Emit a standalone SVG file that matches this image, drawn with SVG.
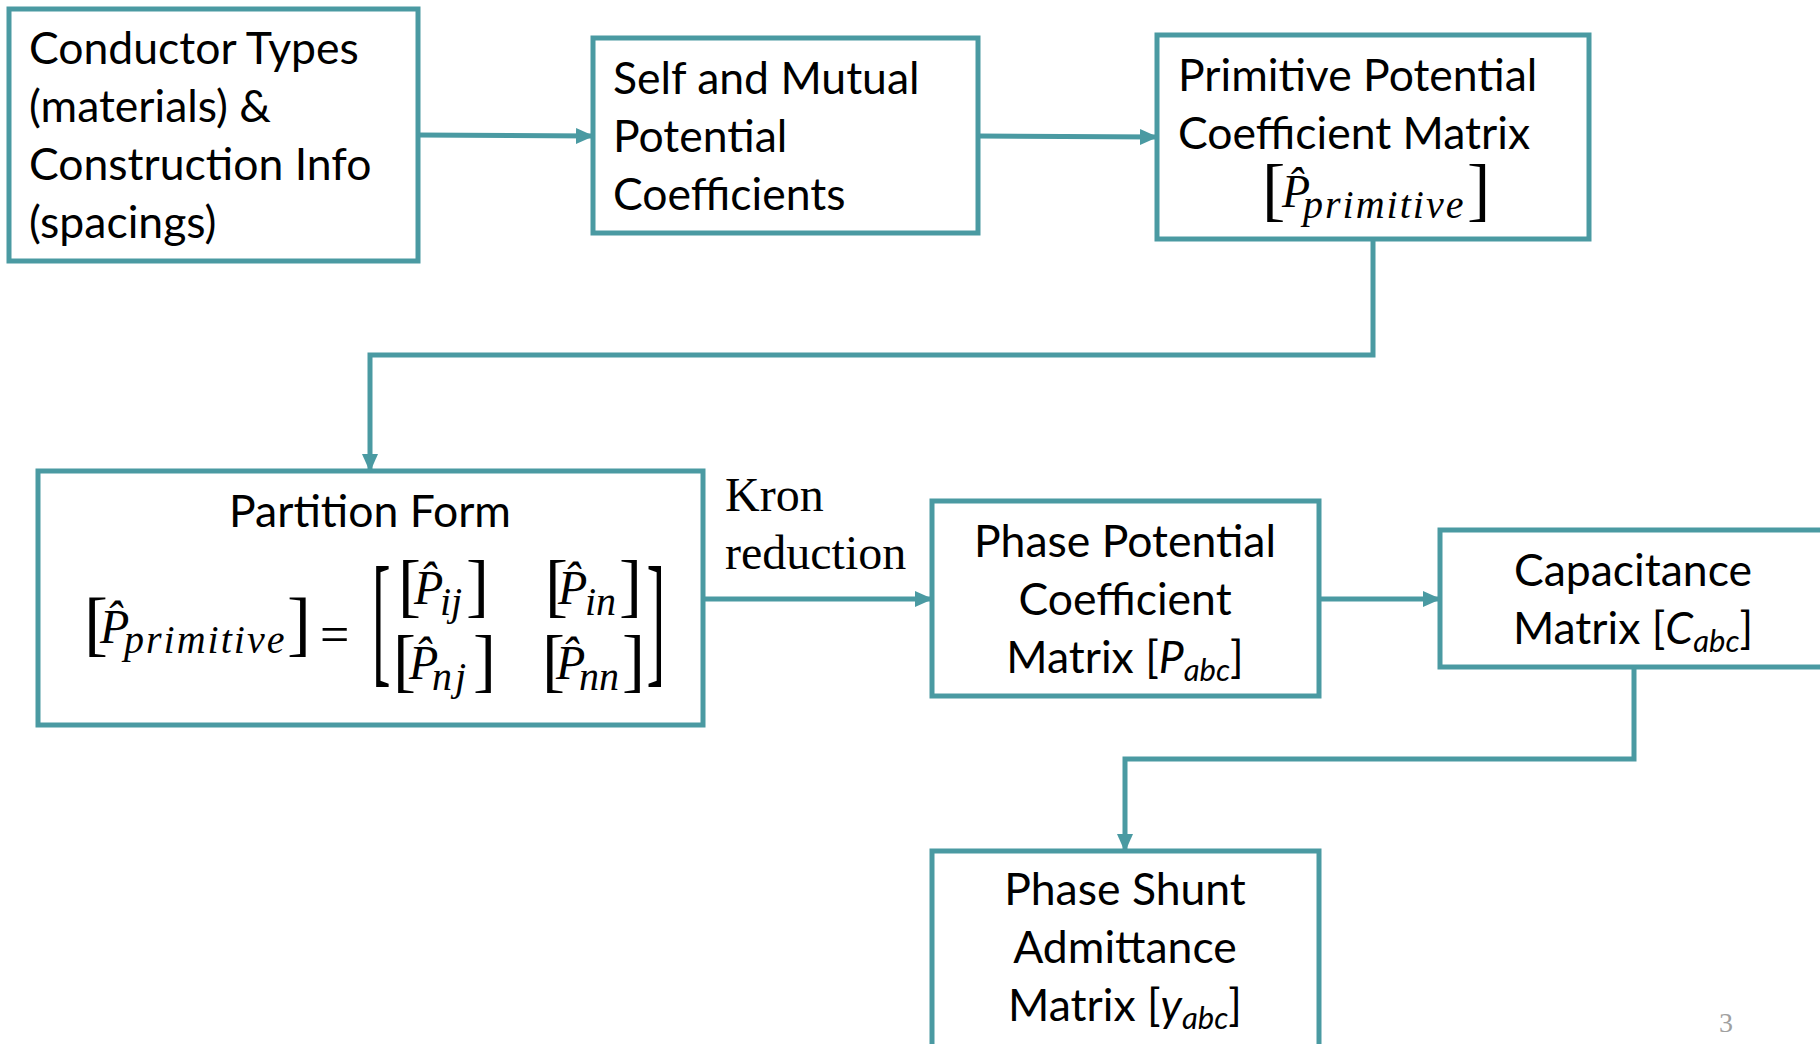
<svg xmlns="http://www.w3.org/2000/svg" width="1820" height="1044" viewBox="0 0 1820 1044">
<style>
.box{fill:#fff;stroke:#4a9aa2;stroke-width:5}
.t{font-family:Lato,"Liberation Sans",sans-serif;font-size:44.5px;fill:#000}
.c{text-anchor:middle}
.m{font-family:"Liberation Serif",serif;fill:#000}
.i{font-style:italic}
.b{font-family:"Liberation Serif",serif;fill:#000}
.con{fill:none;stroke:#4a9aa2;stroke-width:5;marker-end:url(#ah)}
</style>
<defs>
<marker id="ah" markerUnits="userSpaceOnUse" markerWidth="18" markerHeight="18" viewBox="0 0 18 18" refX="17" refY="9" orient="auto">
<path d="M0,1 L18,9 L0,17 Z" fill="#4a9aa2"/>
</marker>
</defs>
<rect width="1820" height="1044" fill="#fff"/>
<g id="connectors">
<path class="con" d="M418,135 L593,136"/>
<path class="con" d="M978,136 L1157,137"/>
<path class="con" d="M1373,239 V355 H370 V471"/>
<path class="con" d="M703,599 H932"/>
<path class="con" d="M1319,599 H1440"/>
<path class="con" d="M1634,667 V759 H1125 V851"/>
</g>
<g id="n1">
<rect class="box" x="9" y="9" width="409" height="252"/>
<text class="t" x="29" y="64">Conductor Types</text>
<text class="t" x="29" y="122">(materials) &amp;</text>
<text class="t" x="29" y="180">Construction Info</text>
<text class="t" x="29" y="238">(spacings)</text>
</g>
<g id="n2">
<rect class="box" x="593" y="38" width="385" height="195"/>
<text class="t" x="613" y="94">Self and Mutual</text>
<text class="t" x="613" y="152">Potential</text>
<text class="t" x="613" y="210">Coefficients</text>
</g>
<g id="n3">
<rect class="box" x="1157" y="35" width="432" height="204"/>
<text class="t" x="1178" y="91">Primitive Potential</text>
<text class="t" x="1178" y="149">Coefficient Matrix</text>
<text class="m"><tspan x="1262" y="213" font-size="70">[</tspan><tspan class="i" x="1282" y="207" font-size="46">P̂</tspan><tspan class="i" x="1303" y="218" font-size="40" letter-spacing="2">primitive</tspan><tspan x="1467" y="213" font-size="70">]</tspan></text>
</g>
<g id="n4">
<rect class="box" x="38" y="471" width="665" height="254"/>
<text class="t c" x="370" y="527">Partition Form</text>
<text class="m"><tspan x="84" y="647" font-size="72">[</tspan><tspan class="i" x="100" y="643" font-size="48">P̂</tspan><tspan class="i" x="124" y="653" font-size="40" letter-spacing="2">primitive</tspan><tspan x="287" y="647" font-size="72">]</tspan><tspan x="320" y="652" font-size="52">=</tspan></text>
<text class="b" x="465" y="317.7" font-size="70" transform="scale(0.8 2.1)">[</text>
<text class="b" x="808" y="317.7" font-size="70" transform="scale(0.8 2.1)">]</text>
<text class="m"><tspan x="398" y="609" font-size="69">[</tspan><tspan class="i" x="414" y="604" font-size="48">P̂</tspan><tspan class="i" x="440" y="615" font-size="40">ij</tspan><tspan x="466" y="609" font-size="69">]</tspan></text>
<text class="m"><tspan x="545" y="609" font-size="69">[</tspan><tspan class="i" x="558" y="604" font-size="48">P̂</tspan><tspan class="i" x="585" y="615" font-size="40">in</tspan><tspan x="619" y="609" font-size="69">]</tspan></text>
<text class="m"><tspan x="393" y="684" font-size="69">[</tspan><tspan class="i" x="409" y="679" font-size="48">P̂</tspan><tspan class="i" x="432" y="690" font-size="40" letter-spacing="3">nj</tspan><tspan x="473" y="684" font-size="69">]</tspan></text>
<text class="m"><tspan x="542" y="684" font-size="69">[</tspan><tspan class="i" x="556" y="679" font-size="48">P̂</tspan><tspan class="i" x="579" y="690" font-size="40">nn</tspan><tspan x="622" y="684" font-size="69">]</tspan></text>
</g>
<g id="kron">
<text class="b" x="725" y="511" font-size="48">Kron</text>
<text class="b" x="725" y="569" font-size="48">reduction</text>
</g>
<g id="n5">
<rect class="box" x="932" y="501" width="387" height="195"/>
<text class="t c" x="1125" y="557">Phase Potential</text>
<text class="t c" x="1125" y="615">Coefficient</text>
<text class="t c" x="1125" y="673">Matrix [<tspan font-style="italic">P</tspan><tspan font-style="italic" font-size="31" dy="8">abc</tspan><tspan dy="-8">]</tspan></text>
</g>
<g id="n6">
<rect class="box" x="1440" y="530" width="400" height="137"/>
<text class="t c" x="1633" y="586">Capacitance</text>
<text class="t c" x="1633" y="644">Matrix [<tspan font-style="italic">C</tspan><tspan font-style="italic" font-size="31" dy="8">abc</tspan><tspan dy="-8">]</tspan></text>
</g>
<g id="n7">
<rect class="box" x="932" y="851" width="387" height="215"/>
<text class="t c" x="1125" y="905">Phase Shunt</text>
<text class="t c" x="1125" y="963">Admittance</text>
<text class="t c" x="1125" y="1021">Matrix [<tspan font-style="italic">y</tspan><tspan font-style="italic" font-size="31" dy="8">abc</tspan><tspan dy="-8">]</tspan></text>
</g>
<text class="b" x="1719" y="1032" font-size="28" style="fill:#a0a0a0">3</text>
</svg>
